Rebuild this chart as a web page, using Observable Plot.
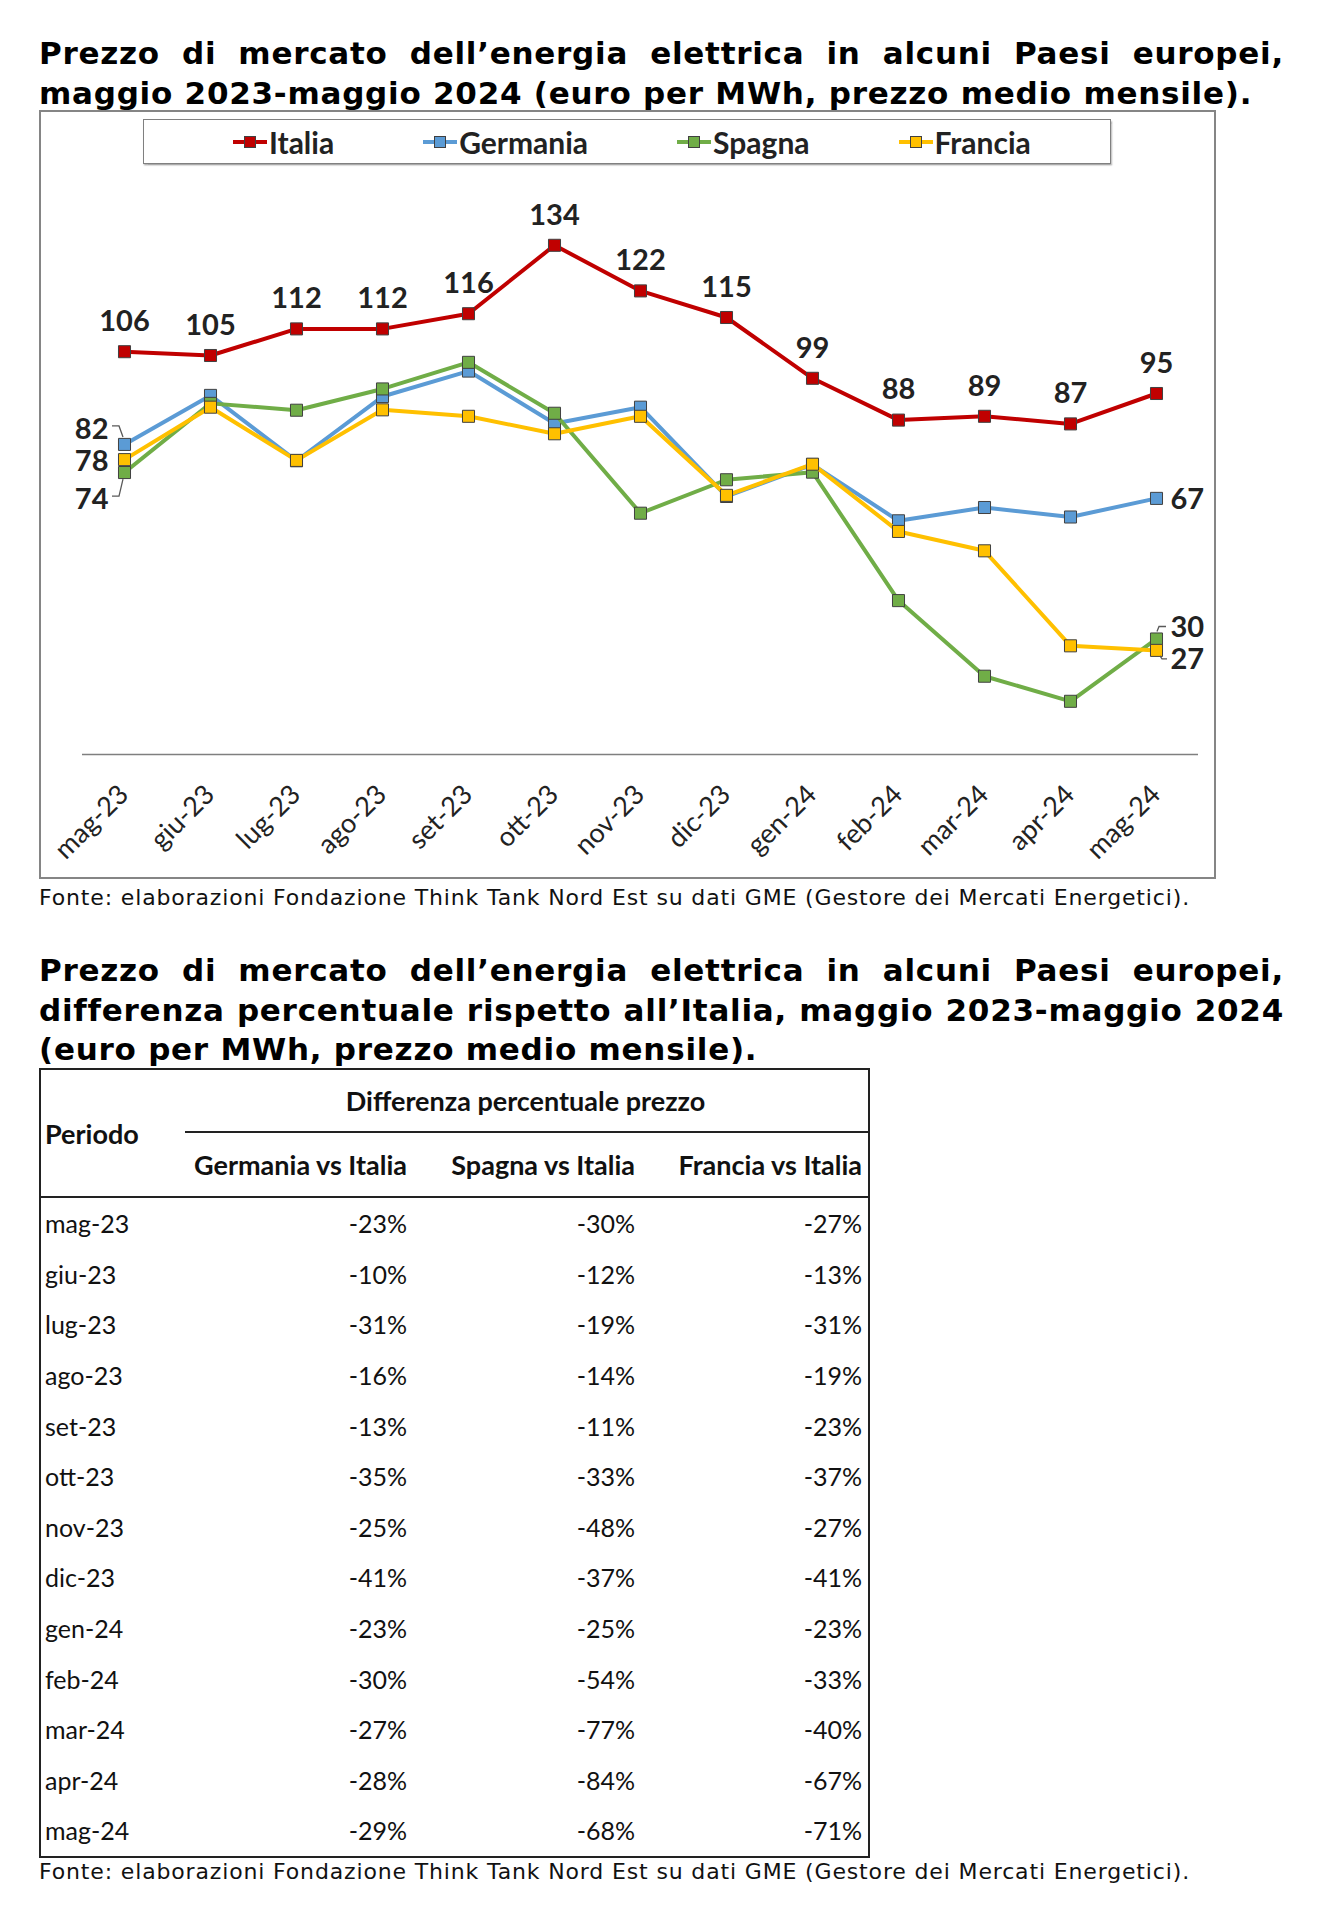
<!DOCTYPE html>
<html><head><meta charset="utf-8">
<script src="https://cdn.jsdelivr.net/npm/d3@7"></script>
<script src="https://cdn.jsdelivr.net/npm/@observablehq/plot@0.6"></script>
<style>
body{margin:0;background:#fff;width:1324px;height:1920px;position:relative;font-family:"DejaVu Sans",Verdana,sans-serif;color:#000;overflow:hidden}
.title{position:absolute;left:39px;width:1245px;font-weight:bold;font-size:31px;letter-spacing:0.75px;line-height:39.5px;margin:0}
.title span{display:block;white-space:nowrap;text-align:left}
.title span.j{text-align:justify;text-align-last:justify}
.caption{position:absolute;left:39px;font-size:22px;letter-spacing:0.85px;line-height:26px;white-space:nowrap;color:#111}
#chartbox{position:absolute;left:39px;top:110px;width:1173px;height:765px;border:2px solid #858585}
#chart{position:absolute;left:0;top:0;width:1173px;height:765px}
#chart svg{max-width:none}
#legend{position:absolute;left:102px;top:7px;height:43px;border:1.5px solid #808080;box-shadow:1px 1.5px 1.5px #aaa;display:flex;justify-content:flex-start;padding-left:89px;box-sizing:content-box;align-items:center;gap:89px;font-family:Lato,"Open Sans",sans-serif;font-weight:bold;font-size:30px;color:#222;background:#fff}
#legend .item{display:flex;align-items:center;gap:2px}
#tbl{position:absolute;left:39px;top:1068px;width:829px;border-collapse:collapse;table-layout:fixed;border:2px solid #222;font-family:Lato,"Open Sans",sans-serif;font-size:25px;color:#111}
#tbl td,#tbl th{padding:0 6px 0 4px;white-space:nowrap;overflow:visible}
#tbl th{font-weight:bold;font-size:27px}
#tbl td.num,#tbl th.num{text-align:right}
#tbl tr.data td{height:50.6px}
</style></head>
<body>
<div class="title" style="top:34px"><span class="j">Prezzo di mercato dell’energia elettrica in alcuni Paesi europei,</span><span>maggio 2023-maggio 2024 (euro per MWh, prezzo medio mensile).</span></div>
<div id="chartbox"><div id="chart"></div><div id="legend"></div></div>
<div class="caption" style="top:885px">Fonte: elaborazioni Fondazione Think Tank Nord Est su dati GME (Gestore dei Mercati Energetici).</div>
<div class="title" style="top:951px"><span class="j">Prezzo di mercato dell’energia elettrica in alcuni Paesi europei,</span><span class="j">differenza percentuale rispetto all’Italia, maggio 2023-maggio 2024</span><span>(euro per MWh, prezzo medio mensile).</span></div>
<table id="tbl"></table>
<div class="caption" style="top:1859px">Fonte: elaborazioni Fondazione Think Tank Nord Est su dati GME (Gestore dei Mercati Energetici).</div>
<script>
// ---- data ----
const months = ["mag-23","giu-23","lug-23","ago-23","set-23","ott-23","nov-23","dic-23","gen-24","feb-24","mar-24","apr-24","mag-24"];
const italia   = [106, 105, 112, 112, 116, 134, 122, 115, 99, 88, 89, 87, 95];
const germania = [81.6, 94.5, 77.3, 94.2, 100.9, 87.1, 91.4, 67.9, 76.3, 61.5, 65.0, 62.5, 67.4];
const spagna   = [74.2, 92.4, 90.6, 96.2, 103.2, 89.8, 63.5, 72.3, 74.3, 40.5, 20.6, 14.0, 30.4];
const francia  = [77.6, 91.4, 77.4, 90.7, 89.0, 84.4, 89.0, 68.2, 76.4, 58.7, 53.6, 28.6, 27.4];
const seriesNames = ["Italia","Germania","Spagna","Francia"];
const seriesColors = ["#C00000","#5B9BD5","#70AD47","#FFC000"];
const tablePeriods = months;
const germaniaVsItalia = [-23,-10,-31,-16,-13,-35,-25,-41,-23,-30,-27,-28,-29];
const spagnaVsItalia   = [-30,-12,-19,-14,-11,-33,-48,-37,-25,-54,-77,-84,-68];
const franciaVsItalia  = [-27,-13,-31,-19,-23,-37,-27,-41,-23,-33,-40,-67,-71];
const tableHeaders = ["Periodo","Differenza percentuale prezzo","Germania vs Italia","Spagna vs Italia","Francia vs Italia"];

const seriesValues = [italia, germania, spagna, francia];
const rows = seriesNames.flatMap((s,i)=>months.map((m,j)=>({series:s, month:m, value:seriesValues[i][j]})));
const bySeries = s => rows.filter(r=>r.series===s);
const fmt = d3.format(".0f");
const svgns = "http://www.w3.org/2000/svg";

function leader(data, pts){
  return Plot.dot(data, {x:"month", y:"value", r:1, render(index, scales, values, dims, context){
    const g = context.document.createElementNS(svgns, "g");
    for (const i of index){
      const px = values.x[i], py = values.y[i];
      const p = context.document.createElementNS(svgns, "path");
      p.setAttribute("d", pts.map(([a,b],k)=>(k?"L":"M")+(px+a)+","+(py+b)).join(""));
      p.setAttribute("fill","none"); p.setAttribute("stroke","#595959"); p.setAttribute("stroke-width","1.3");
      g.appendChild(p);
    }
    return g;
  }});
}

const lab = {fontFamily:"Lato, 'Open Sans', sans-serif", fontWeight:"bold", fontSize:29, fill:"#222"};
const marks = [Plot.ruleY([0], {stroke:"#7f7f7f", strokeWidth:1.5})];
seriesNames.forEach((s,i)=>{
  const d = bySeries(s);
  marks.push(Plot.line(d, {x:"month", y:"value", stroke:seriesColors[i], strokeWidth:4, strokeLinejoin:"round"}));
  marks.push(Plot.dot(d, {x:"month", y:"value", symbol:"square", r:6.8, fill:seriesColors[i], stroke:"#404040", strokeWidth:1}));
});
const first = s => bySeries(s).slice(0,1);
const last = s => bySeries(s).slice(-1);
marks.push(
  Plot.text(bySeries("Italia"), {x:"month", y:"value", text:d=>fmt(d.value), dy:-30, ...lab}),
  Plot.text(first("Germania"), {x:"month", y:"value", text:d=>fmt(d.value), dx:-16, dy:-15, textAnchor:"end", ...lab}),
  Plot.text(first("Francia"), {x:"month", y:"value", text:d=>fmt(d.value), dx:-16, dy:2, textAnchor:"end", ...lab}),
  Plot.text(first("Spagna"), {x:"month", y:"value", text:d=>fmt(d.value), dx:-16, dy:27, textAnchor:"end", ...lab}),
  Plot.text(last("Germania"), {x:"month", y:"value", text:d=>fmt(d.value), dx:14, dy:1, textAnchor:"start", ...lab}),
  Plot.text(last("Spagna"), {x:"month", y:"value", text:d=>fmt(d.value), dx:14, dy:-11, textAnchor:"start", ...lab}),
  Plot.text(last("Francia"), {x:"month", y:"value", text:d=>fmt(d.value), dx:14, dy:9, textAnchor:"start", ...lab}),
  leader(first("Germania"), [[-12,-18],[-5,-18],[-1,-7]]),
  leader(first("Spagna"), [[-12,24],[-5,24],[-1,7]]),
  leader(last("Spagna"), [[1,-7],[3,-12],[10,-12]]),
  leader(last("Francia"), [[4,6],[6,9],[11,9]]),
  Plot.text(months, {x:d=>d, frameAnchor:"bottom", rotate:-45, textAnchor:"end", lineAnchor:"top", dx:-8, dy:28,
    fontFamily:"Lato, 'Open Sans', sans-serif", fontSize:27, fill:"#222"})
);

const chart = Plot.plot({
  width:1173, height:765,
  marginLeft:41, marginRight:16, marginTop:34, marginBottom:123,
  x:{type:"point", domain:months, range:[78,1119], padding:0, axis:null},
  y:{domain:[0,160], axis:null},
  style:{background:"transparent", overflow:"visible"},
  marks
});
document.getElementById("chart").appendChild(chart);

// legend
const legend = document.getElementById("legend");
legend.style.width = (966 - 89) + "px";
seriesNames.forEach((s,i)=>{
  const it = document.createElement("div"); it.className = "item";
  it.innerHTML = `<svg width="34" height="14"><line x1="0" y1="7" x2="34" y2="7" stroke="${seriesColors[i]}" stroke-width="4"/><rect x="11.5" y="1.5" width="11" height="11" fill="${seriesColors[i]}" stroke="#404040" stroke-width="1"/></svg><span>${s}</span>`;
  legend.appendChild(it);
});

// table
const pct = v => v + "%";
const tbl = document.getElementById("tbl");
let html = `<colgroup><col style="width:145px"><col style="width:228px"><col style="width:228px"><col style="width:228px"></colgroup>`;
html += `<tr style="height:63px"><th rowspan="2" style="text-align:left;border-bottom:2px solid #222;vertical-align:middle">${tableHeaders[0]}</th><th colspan="3" style="text-align:center;border-bottom:2px solid #222">${tableHeaders[1]}</th></tr>`;
html += `<tr style="height:65px;border-bottom:2px solid #222"><th class="num">${tableHeaders[2]}</th><th class="num">${tableHeaders[3]}</th><th class="num">${tableHeaders[4]}</th></tr>`;
tablePeriods.forEach((p,i)=>{
  html += `<tr class="data"><td>${p}</td><td class="num">${pct(germaniaVsItalia[i])}</td><td class="num">${pct(spagnaVsItalia[i])}</td><td class="num">${pct(franciaVsItalia[i])}</td></tr>`;
});
tbl.innerHTML = html;
</script>
</body></html>
